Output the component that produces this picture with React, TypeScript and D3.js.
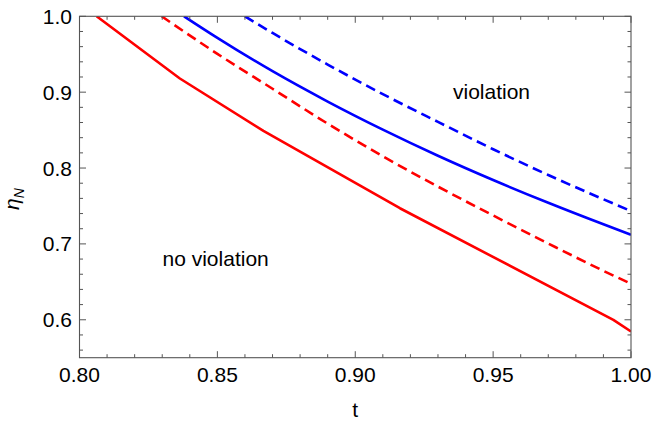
import React from "react";
import * as d3 from "d3";

const redSolidT = [0.8062, 0.8364, 0.8667, 0.9162, 0.9936, 1.0];
const redSolidEta = [1.0, 0.918, 0.849, 0.747, 0.5999, 0.5845];

const redDashT = [0.8298, 0.85, 0.87, 0.89, 0.91, 0.93, 0.95, 0.97, 0.99, 1.0];
const redDashEta = [1.0, 0.9505, 0.9045, 0.8585, 0.8155, 0.7755, 0.7375, 0.7005, 0.6645, 0.6475];

const blueSolidT = [0.8379, 0.85, 0.87, 0.89, 0.91, 0.93, 0.95, 0.97, 0.99, 1.0];
const blueSolidEta = [1.0, 0.9716, 0.9276, 0.8876, 0.8506, 0.8162, 0.7842, 0.7542, 0.7258, 0.712];

const blueDashT = [0.86, 0.87, 0.89, 0.91, 0.93, 0.95, 0.97, 0.99, 1.0];
const blueDashEta = [1.0, 0.978, 0.9364, 0.8974, 0.8608, 0.8248, 0.7908, 0.7588, 0.7433];

const xMajorTicks = [0.8, 0.85, 0.9, 0.95, 1.0];
const xTickLabels = ["0.80", "0.85", "0.90", "0.95", "1.00"];
const yMajorTicks = [0.6, 0.7, 0.8, 0.9, 1.0];
const yTickLabels = ["0.6", "0.7", "0.8", "0.9", "1.0"];

const W = 652;
const H = 421;
const left = 79.5;
const right = 631;
const top = 16.3;
const bottom = 357.7;

export default function App() {
  const x = d3.scaleLinear().domain([0.8, 1.0]).range([left, right]);
  const y = d3.scaleLinear().domain([0.55, 1.0]).range([bottom, top]);

  const smooth = d3
    .line<[number, number]>()
    .x((d) => x(d[0]))
    .y((d) => y(d[1]))
    .curve(d3.curveMonotoneX);
  const straight = d3
    .line<[number, number]>()
    .x((d) => x(d[0]))
    .y((d) => y(d[1]))
    .curve(d3.curveLinear);

  const zip = (a: number[], b: number[]) => a.map((v, i) => [v, b[i]] as [number, number]);

  const series = [
    { pts: zip(redSolidT, redSolidEta), color: "#ff0000", dash: undefined, gen: straight },
    { pts: zip(redDashT, redDashEta), color: "#ff0000", dash: "10,5.5", gen: smooth },
    { pts: zip(blueSolidT, blueSolidEta), color: "#0000ff", dash: undefined, gen: smooth },
    { pts: zip(blueDashT, blueDashEta), color: "#0000ff", dash: "10,5.5", gen: smooth },
  ];

  const xMinor = d3.range(0, 21).map((i) => 0.8 + i * 0.01).filter((v) => !xMajorTicks.some((m) => Math.abs(m - v) < 1e-6));
  const yMinor = d3.range(0, 23).map((i) => 0.56 + i * 0.02).filter((v) => v <= 1.0001 && !yMajorTicks.some((m) => Math.abs(m - v) < 1e-6));

  const axisColor = "#555";
  const font = "'Liberation Sans', Arial, sans-serif";
  const fs = 21;
  const majorLen = 6.5;
  const minorLen = 3.5;

  return (
    <svg width={W} height={H} style={{ position: "absolute", left: 0, top: 0, background: "#fff" }} fontFamily={font}>
      <defs>
        <clipPath id="plotclip">
          <rect x={left} y={top} width={right - left} height={bottom - top} />
        </clipPath>
      </defs>
      <rect x={0} y={0} width={W} height={H} fill="#fff" />
      <g clipPath="url(#plotclip)">
        {series.map((s, i) => (
          <path key={i} d={s.gen(s.pts) || ""} fill="none" stroke={s.color} strokeWidth={2.6} strokeDasharray={s.dash} strokeLinejoin="round" />
        ))}
      </g>
      {/* frame */}
      <rect x={left} y={top} width={right - left} height={bottom - top} fill="none" stroke={axisColor} strokeWidth={1.1} />
      {/* x ticks */}
      {xMajorTicks.map((v) => (
        <g key={"xm" + v}>
          <line x1={x(v)} x2={x(v)} y1={bottom} y2={bottom - majorLen} stroke={axisColor} />
          <line x1={x(v)} x2={x(v)} y1={top} y2={top + majorLen} stroke={axisColor} />
        </g>
      ))}
      {xMinor.map((v) => (
        <g key={"xn" + v}>
          <line x1={x(v)} x2={x(v)} y1={bottom} y2={bottom - minorLen} stroke={axisColor} />
          <line x1={x(v)} x2={x(v)} y1={top} y2={top + minorLen} stroke={axisColor} />
        </g>
      ))}
      {yMajorTicks.map((v) => (
        <g key={"ym" + v}>
          <line x1={left} x2={left + majorLen} y1={y(v)} y2={y(v)} stroke={axisColor} />
          <line x1={right} x2={right - majorLen} y1={y(v)} y2={y(v)} stroke={axisColor} />
        </g>
      ))}
      {yMinor.map((v) => (
        <g key={"yn" + v}>
          <line x1={left} x2={left + minorLen} y1={y(v)} y2={y(v)} stroke={axisColor} />
          <line x1={right} x2={right - minorLen} y1={y(v)} y2={y(v)} stroke={axisColor} />
        </g>
      ))}
      {/* tick labels */}
      {xMajorTicks.map((v, i) => (
        <text key={"xl" + v} x={x(v)} y={382} textAnchor="middle" fontSize={fs} fill="#000">
          {xTickLabels[i]}
        </text>
      ))}
      {yMajorTicks.map((v, i) => (
        <text key={"yl" + v} x={72} y={y(v) + 7.5} textAnchor="end" fontSize={fs} fill="#000">
          {yTickLabels[i]}
        </text>
      ))}
      {/* axis labels */}
      <text x={(left + right) / 2} y={417} textAnchor="middle" fontSize={fs} fill="#000">
        t
      </text>
      <text transform="translate(19,210) rotate(-90)" fontSize={fs} fill="#000">
        <tspan fontStyle="italic">η</tspan>
        <tspan fontStyle="italic" fontSize={14} dy={5}>N</tspan>
      </text>
      {/* region labels */}
      <text x={453} y={99} fontSize={fs} fill="#000">violation</text>
      <text x={162.5} y={266} fontSize={fs} fill="#000">no violation</text>
    </svg>
  );
}
